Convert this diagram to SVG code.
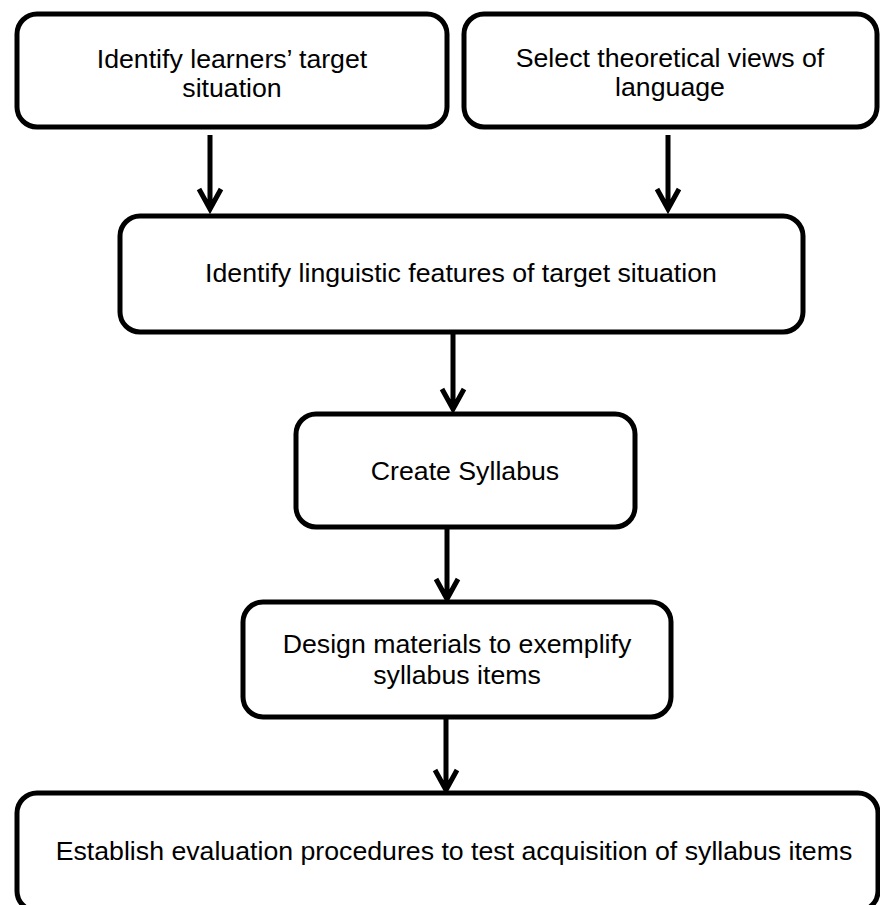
<svg xmlns="http://www.w3.org/2000/svg" width="880" height="905" viewBox="0 0 880 905">
<style>
.box{fill:#fff;stroke:#000;stroke-width:5}
.t{font-family:"Liberation Sans",Arial,sans-serif;font-size:26.7px;fill:#000;text-anchor:middle}
.c{stroke:#000;stroke-width:5;fill:none}
</style>
<rect width="880" height="905" fill="#fff"/>
<g id="connectors">
<path class="c" d="M210,135 V208 M199,189 L210,209 L221,189"/>
<path class="c" d="M668,135 V208 M657,189 L668,209 L679,189"/>
<path class="c" d="M453,332 V408 M442,389 L453,409 L464,389"/>
<path class="c" d="M447,527 V598 M436,579 L447,599 L458,579"/>
<path class="c" d="M446,717 V789 M435,770 L446,790 L457,770"/>
</g>
<g id="n1">
<rect class="box" x="17" y="14" width="430" height="113" rx="20"/>
<text class="t" x="232" y="68">Identify learners’ target</text>
<text class="t" x="232" y="97">situation</text>
</g>
<g id="n2">
<rect class="box" x="464" y="14" width="413" height="113" rx="20"/>
<text class="t" x="670" y="67">Select theoretical views of</text>
<text class="t" x="670" y="96">language</text>
</g>
<g id="n3">
<rect class="box" x="120" y="216" width="683" height="116" rx="20"/>
<text class="t" x="461" y="282">Identify linguistic features of target situation</text>
</g>
<g id="n4">
<rect class="box" x="296" y="414" width="339" height="113" rx="20"/>
<text class="t" x="465" y="480">Create Syllabus</text>
</g>
<g id="n5">
<rect class="box" x="243" y="602" width="428" height="115" rx="20"/>
<text class="t" x="457" y="653">Design materials to exemplify</text>
<text class="t" x="457" y="684">syllabus items</text>
</g>
<g id="n6">
<rect class="box" x="17" y="793" width="861" height="118" rx="20"/>
<text class="t" x="454" y="860">Establish evaluation procedures to test acquisition of syllabus items</text>
</g>
</svg>
